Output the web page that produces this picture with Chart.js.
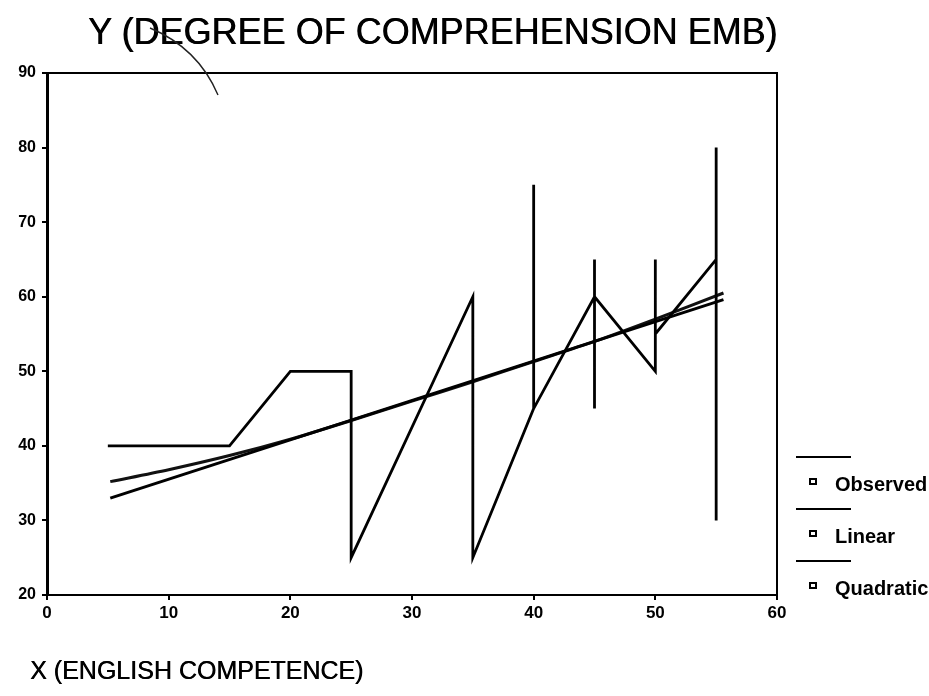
<!DOCTYPE html>
<html>
<head>
<meta charset="utf-8">
<script src="https://cdn.jsdelivr.net/npm/chart.js@4"></script>
<style>
  body { margin: 0; background: #fff; }
  #wrap { position: relative; width: 929px; height: 696px; font-family: "Liberation Sans", Arial, sans-serif; color: #000; }
  #c { position: absolute; left: 0; top: 0; }
  .title { position: absolute; left: 88px; top: 12px; font-size: 36px; line-height: 40px; white-space: nowrap; text-shadow: 0.6px 0 0 #000; }
  .xtitle { position: absolute; left: 30px; top: 656px; font-size: 25px; line-height: 28px; white-space: nowrap; text-shadow: 0.5px 0 0 #000; }
  .leg-line { position: absolute; left: 796px; width: 55px; border-top: 2px solid #000; }
  .leg-mark { position: absolute; left: 809px; width: 4px; height: 3px; border: 2px solid #000; }
  .leg-text { position: absolute; left: 835px; font-size: 20px; font-weight: bold; line-height: 20px; white-space: nowrap; }
  svg { position: absolute; left: 0; top: 0; pointer-events: none; }
</style>
</head>
<body>
<div id="wrap">
  <canvas id="c" width="929" height="696"></canvas>
  <div class="title">Y (DEGREE OF COMPREHENSION EMB)</div>
  <div class="xtitle">X (ENGLISH COMPETENCE)</div>
  <svg width="929" height="696"><path d="M150 28 Q198 48 218 95" stroke="#222" stroke-width="1.4" fill="none"/></svg>
  <div id="legend"></div>
</div>
<script>
// observed values, in the order they are joined
const obsX = [5, 15, 20, 25, 25, 35, 35, 40, 40, 40, 45, 45, 45, 45, 50, 50, 50, 55, 55, 55];
const obsY = [40, 40, 50, 50, 25, 60, 25, 45, 75, 45, 60, 65, 45, 60, 50, 65, 55, 65, 80, 30];

// fitted curves
const linX = [5.2, 55.6];
const linY = [33.0, 59.6];
const quadX = [5.2, 10, 15, 20, 25, 30, 35, 40, 45, 50, 55.6];
const quadY = [35.2, 36.8, 38.7, 40.9, 43.4, 46.0, 48.6, 51.3, 54.0, 57.0, 60.5];

const xTicks = [0, 10, 20, 30, 40, 50, 60];
const yTicks = [20, 30, 40, 50, 60, 70, 80, 90];

const legendNames = ['Observed', 'Linear', 'Quadratic'];

const toPts = (xs, ys) => xs.map((x, i) => ({ x: x, y: ys[i] }));

// legend, drawn as html
const legend = document.getElementById('legend');
legendNames.forEach((name, i) => {
    const top = 456 + i * 52;
    legend.insertAdjacentHTML('beforeend',
        '<div class="leg-line" style="top:' + top + 'px"></div>' +
        '<div class="leg-mark" style="top:' + (top + 22) + 'px"></div>' +
        '<div class="leg-text" style="top:' + (top + 18) + 'px">' + name + '</div>');
});

const frame = {
    id: 'frame',
    afterDraw(chart) {
        const a = chart.chartArea;
        const ctx = chart.ctx;
        ctx.save();
        ctx.strokeStyle = '#000';
        ctx.lineWidth = 2;
        ctx.beginPath();
        ctx.moveTo(a.left, a.top);
        ctx.lineTo(a.right, a.top);
        ctx.lineTo(a.right, a.bottom);
        ctx.stroke();
        ctx.restore();
    }
};

const tickFont = { family: '"Liberation Sans", Arial, sans-serif', weight: 'bold', size: 17 };

new Chart(document.getElementById('c'), {
    type: 'scatter',
    data: {
        datasets: [
            { label: 'Observed', data: toPts(obsX, obsY), showLine: true, borderColor: '#000', borderWidth: 2.8, pointRadius: 0, tension: 0 },
            { label: 'Linear', data: toPts(linX, linY), showLine: true, borderColor: '#000', borderWidth: 3, pointRadius: 0, tension: 0 },
            { label: 'Quadratic', data: toPts(quadX, quadY), showLine: true, borderColor: '#111', borderWidth: 3, pointRadius: 0, tension: 0.3 }
        ]
    },
    options: {
        responsive: false,
        animation: false,
        layout: { padding: { left: 0, top: 73, right: 152, bottom: 71 } },
        plugins: { legend: { display: false }, tooltip: { enabled: false } },
        scales: {
            x: {
                type: 'linear', min: 0, max: 60,
                afterBuildTicks: s => { s.ticks = xTicks.map(v => ({ value: v })); },
                afterFit: s => { s.height = 30; },
                ticks: { color: '#000', font: tickFont, padding: 3 },
                grid: { drawOnChartArea: false, drawTicks: true, tickLength: 5, color: '#000', lineWidth: 2 },
                border: { display: true, color: '#000', width: 2 }
            },
            y: {
                type: 'linear', min: 20, max: 90,
                afterBuildTicks: s => { s.ticks = yTicks.map(v => ({ value: v })); },
                afterFit: s => { s.width = 47; },
                ticks: { color: '#000', font: { ...tickFont, size: 16 }, padding: 6 },
                grid: { drawOnChartArea: false, drawTicks: true, tickLength: 5, color: '#000', lineWidth: 2 },
                border: { display: true, color: '#000', width: 3 }
            }
        }
    },
    plugins: [frame]
});
</script>
</body>
</html>
